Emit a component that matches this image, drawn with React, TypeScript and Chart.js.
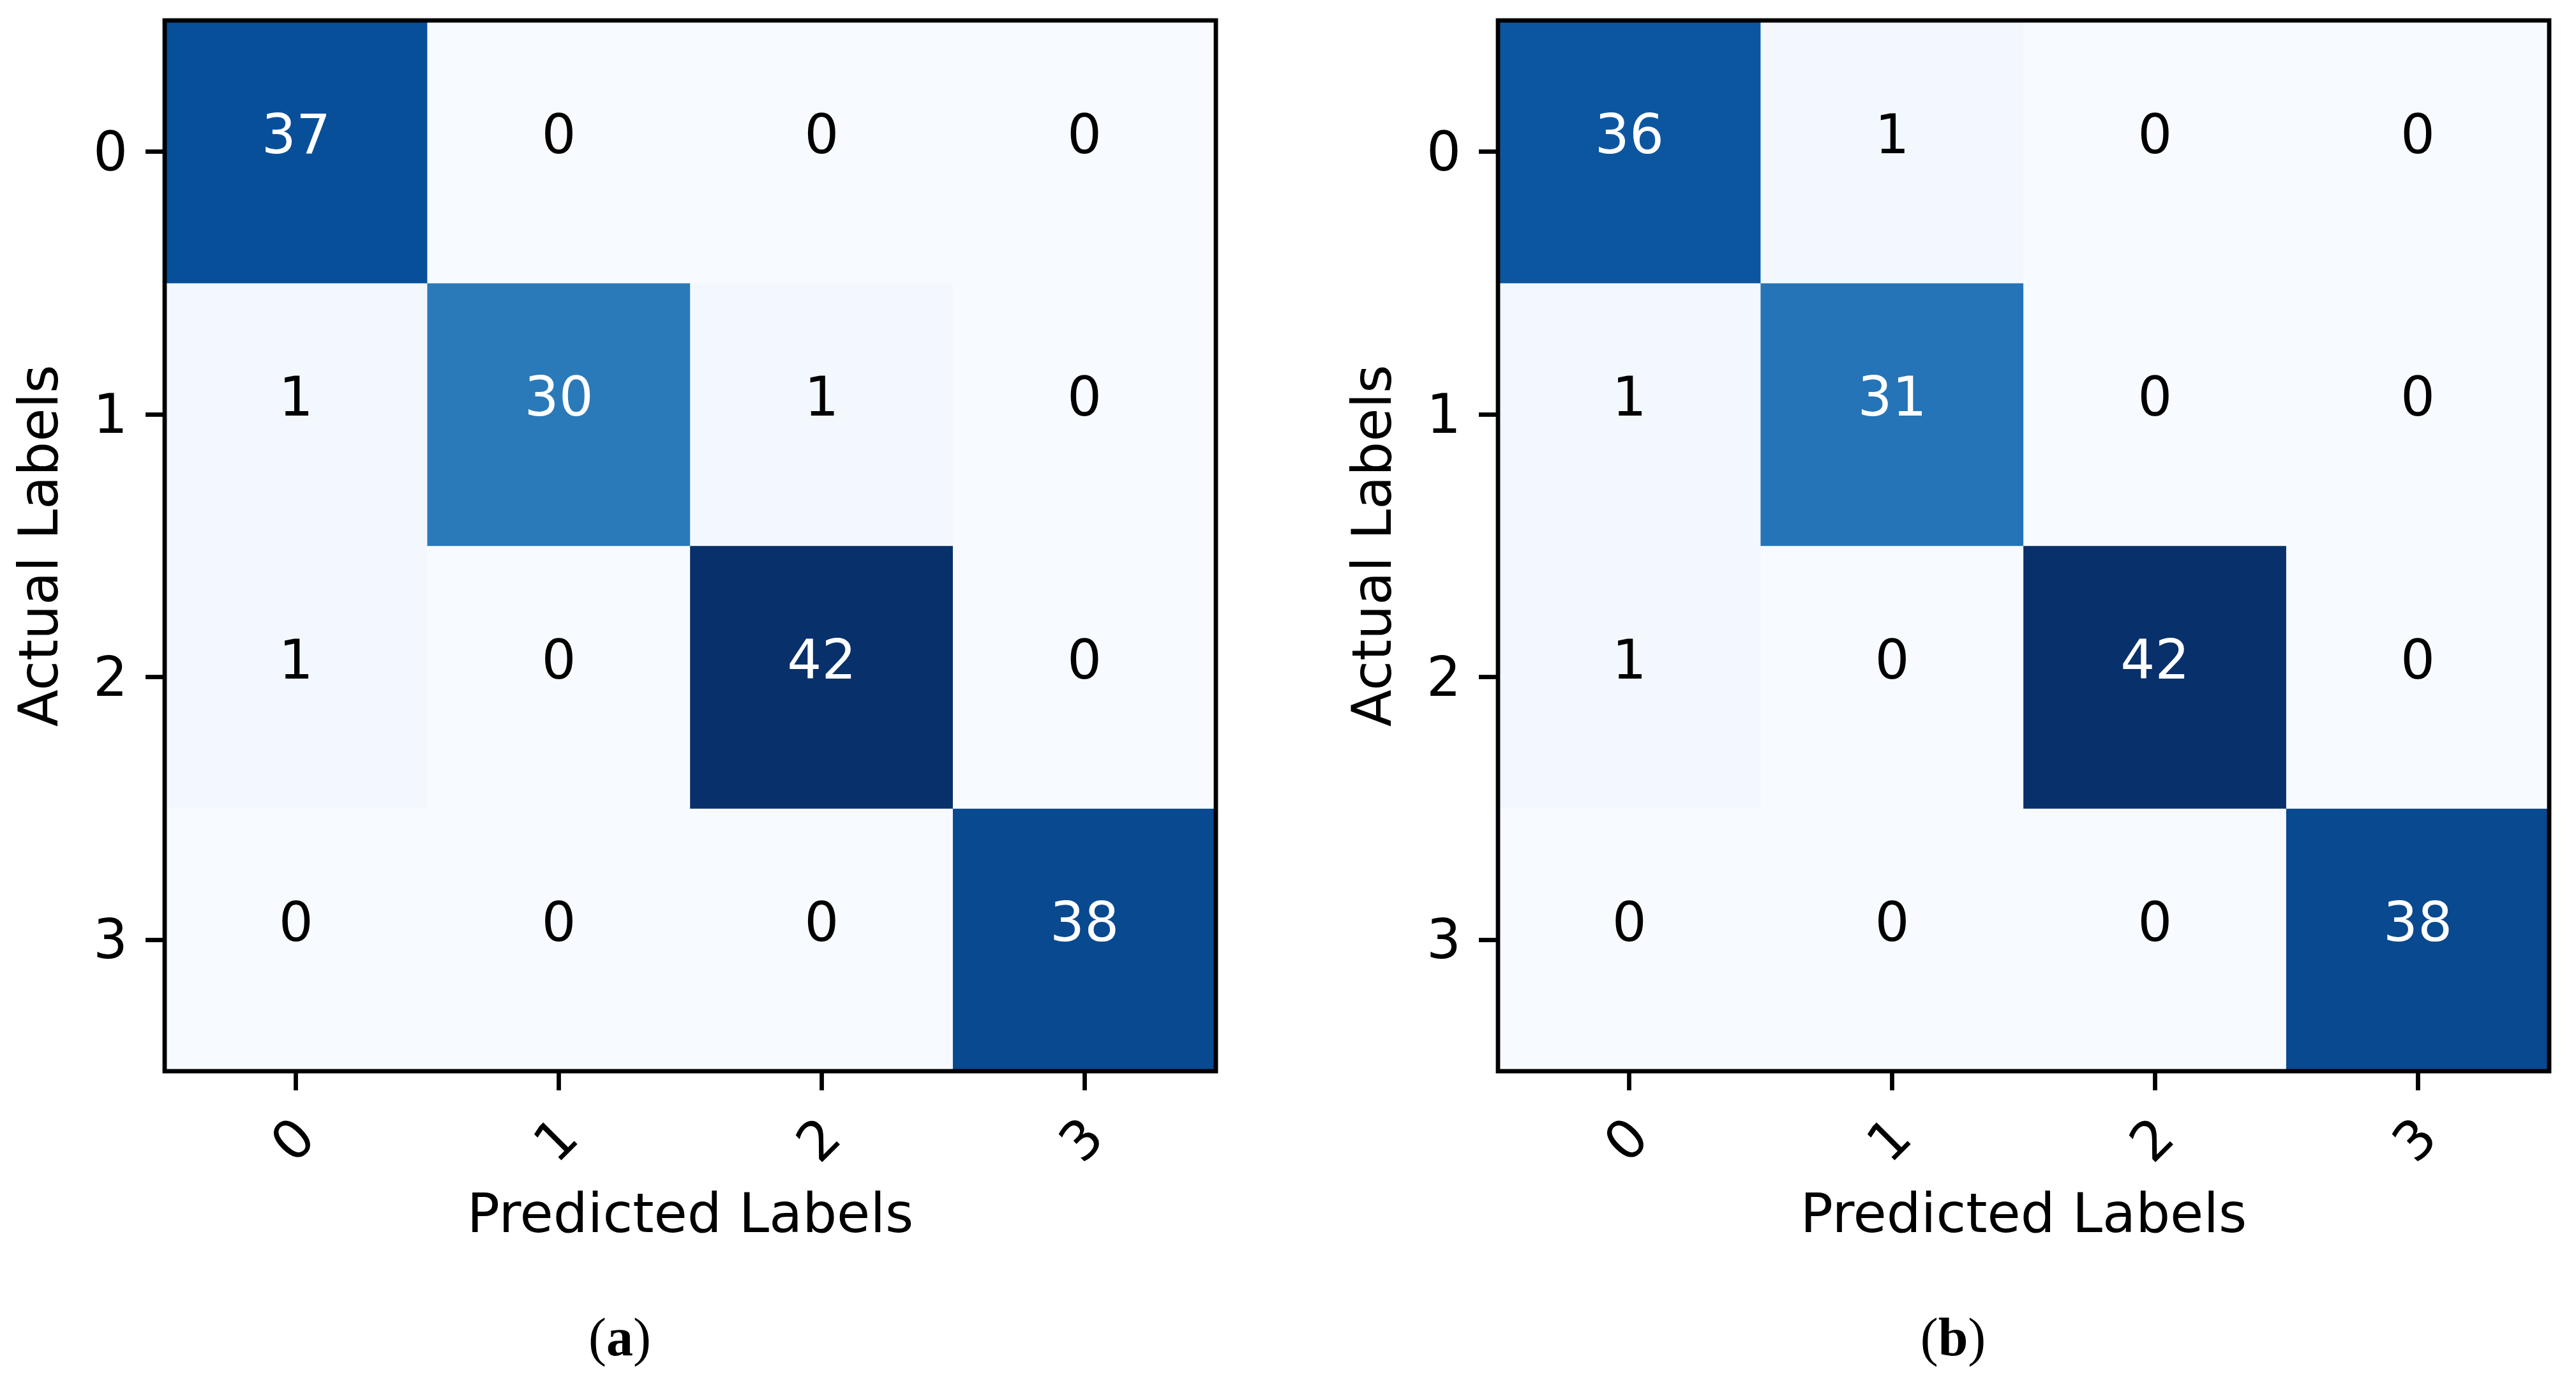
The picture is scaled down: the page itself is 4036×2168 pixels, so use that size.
import React, { useEffect, useRef } from 'react';
import { Chart, registerables } from 'chart.js';

Chart.register(...registerables);

// ---------- data ----------
const classLabels = ['0', '1', '2', '3'];
const xAxisTitle = 'Predicted Labels';
const yAxisTitle = 'Actual Labels';

// rows = actual, columns = predicted
const matrixARow0 = [37, 0, 0, 0];
const matrixARow1 = [1, 30, 1, 0];
const matrixARow2 = [1, 0, 42, 0];
const matrixARow3 = [0, 0, 0, 38];

const matrixBRow0 = [36, 1, 0, 0];
const matrixBRow1 = [1, 31, 0, 0];
const matrixBRow2 = [1, 0, 42, 0];
const matrixBRow3 = [0, 0, 0, 38];

const matrixA = [matrixARow0, matrixARow1, matrixARow2, matrixARow3];
const matrixB = [matrixBRow0, matrixBRow1, matrixBRow2, matrixBRow3];

const captionA = 'a';
const captionB = 'b';

// ---------- style ----------
const FONT = 'DejaVu Sans';
const FS = 85;
const LW = 6.8;

const BLUES: [number, number[]][] = [
  [0.0, [247, 251, 255]],
  [0.125, [222, 235, 247]],
  [0.25, [198, 219, 239]],
  [0.375, [158, 202, 225]],
  [0.5, [107, 174, 214]],
  [0.625, [66, 146, 198]],
  [0.75, [33, 113, 181]],
  [0.875, [8, 81, 156]],
  [1.0, [8, 48, 107]],
];

function blues(t: number): string {
  t = Math.max(0, Math.min(1, t));
  for (let i = 0; i < BLUES.length - 1; i++) {
    const [t0, c0] = BLUES[i];
    const [t1, c1] = BLUES[i + 1];
    if (t <= t1) {
      const f = (t - t0) / (t1 - t0);
      const c = c0.map((v, k) => Math.round(v + (c1[k] - v) * f));
      return `rgb(${c[0]},${c[1]},${c[2]})`;
    }
  }
  const c = BLUES[BLUES.length - 1][1];
  return `rgb(${c[0]},${c[1]},${c[2]})`;
}

const CANVAS_H = 2168;

function ConfusionMatrix({ matrix, left, width, padRight }: { matrix: number[][]; left: number; width: number; padRight: number }) {
  const ref = useRef<HTMLCanvasElement | null>(null);

  useEffect(() => {
    const canvas = ref.current;
    if (!canvas) return;
    const vmax = Math.max(...matrix.map((r) => Math.max(...r)));

    const datasets = matrix.map((row, r) => ({
      label: `row ${classLabels[r]}`,
      data: row.map((v, c) => ({ x: classLabels[c], y: [r - 0.5, r + 0.5] })),
      backgroundColor: row.map((v) => blues(v / vmax)),
      borderWidth: 0,
      barPercentage: 1,
      categoryPercentage: 1,
      grouped: false,
    }));

    const cellText = {
      id: 'cellText',
      afterDatasetsDraw(chart: any) {
        const ctx = chart.ctx;
        ctx.save();
        ctx.font = `${FS}px "${FONT}"`;
        ctx.textAlign = 'center';
        ctx.textBaseline = 'alphabetic';
        matrix.forEach((row, r) => {
          const meta = chart.getDatasetMeta(r);
          meta.data.forEach((el: any, c: number) => {
            const v = row[c];
            const yc = (el.y + el.base) / 2;
            ctx.fillStyle = v > vmax / 2 ? '#ffffff' : '#000000';
            ctx.fillText(String(v), el.x, yc + 2);
          });
        });
        const a = chart.chartArea;
        ctx.lineWidth = LW;
        ctx.strokeStyle = '#000';
        ctx.strokeRect(a.left, a.top, a.right - a.left, a.bottom - a.top);
        ctx.restore();
      },
    };

    const chart = new Chart(canvas, {
      type: 'bar',
      data: { labels: classLabels, datasets: datasets as any },
      options: {
        animation: false,
        responsive: false,
        maintainAspectRatio: false,
        devicePixelRatio: 1,
        layout: { autoPadding: false, padding: { left: 0, top: 32, right: padRight, bottom: 209 } } as any,
        plugins: { legend: { display: false }, tooltip: { enabled: false }, title: { display: false } },
        scales: {
          x: {
            type: 'category',
            offset: true,
            position: 'bottom',
            grid: { display: true, drawOnChartArea: false, offset: false, drawTicks: true, tickLength: 30, tickWidth: LW, tickColor: '#000' },
            border: { display: false },
            ticks: {
              font: { family: FONT, size: FS },
              color: '#000',
              minRotation: 45,
              maxRotation: 45,
              padding: 27,
              labelOffset: 19,
              autoSkip: false,
            },
            title: { display: true, text: xAxisTitle, color: '#000', font: { family: FONT, size: FS }, padding: { top: 0, bottom: 0 } },
            afterFit: (s: any) => {
              s.height = 281;
              s.paddingLeft = 0;
              s.paddingRight = 0;
            },
          },
          y: {
            type: 'linear',
            min: -0.5,
            max: 3.5,
            reverse: true,
            afterBuildTicks: (s: any) => {
              s.ticks = classLabels.map((_, i) => ({ value: i }));
            },
            grid: { display: true, drawOnChartArea: false, drawTicks: true, tickLength: 30, tickWidth: LW, tickColor: '#000' },
            border: { display: false },
            ticks: {
              font: { family: FONT, size: FS },
              color: '#000',
              padding: 28,
              labelOffset: 7,
              autoSkip: false,
              callback: (_v: any, i: number) => classLabels[i],
            },
            title: { display: true, text: yAxisTitle, color: '#000', font: { family: FONT, size: FS }, padding: { top: 17, bottom: 0 } },
            afterFit: (s: any) => {
              s.width = 258;
              s.paddingTop = 0;
              s.paddingBottom = 0;
            },
          },
        },
      } as any,
      plugins: [cellText],
    });
    return () => chart.destroy();
  }, [matrix, padRight]);

  return (
    <canvas
      ref={ref}
      width={width}
      height={CANVAS_H}
      style={{ position: 'absolute', left, top: 0, width, height: CANVAS_H }}
    />
  );
}

function Caption({ letter, center }: { letter: string; center: number }) {
  return (
    <div
      style={{
        position: 'absolute',
        left: center - 200,
        width: 400,
        top: 2053,
        textAlign: 'center',
        fontFamily: '"Liberation Serif", serif',
        fontSize: 84,
        lineHeight: '84px',
        color: '#000',
      }}
    >
      (<b>{letter}</b>)
    </div>
  );
}

export default function App() {
  return (
    <div
      style={{
        position: 'fixed',
        left: 0,
        top: 0,
        width: 4036,
        height: CANVAS_H,
        background: '#fff',
        overflow: 'hidden',
      }}
    >
      <ConfusionMatrix matrix={matrixA} left={0} width={2018} padRight={113} />
      <ConfusionMatrix matrix={matrixB} left={2089} width={1947} padRight={42} />
      <Caption letter={captionA} center={971} />
      <Caption letter={captionB} center={3060} />
    </div>
  );
}
